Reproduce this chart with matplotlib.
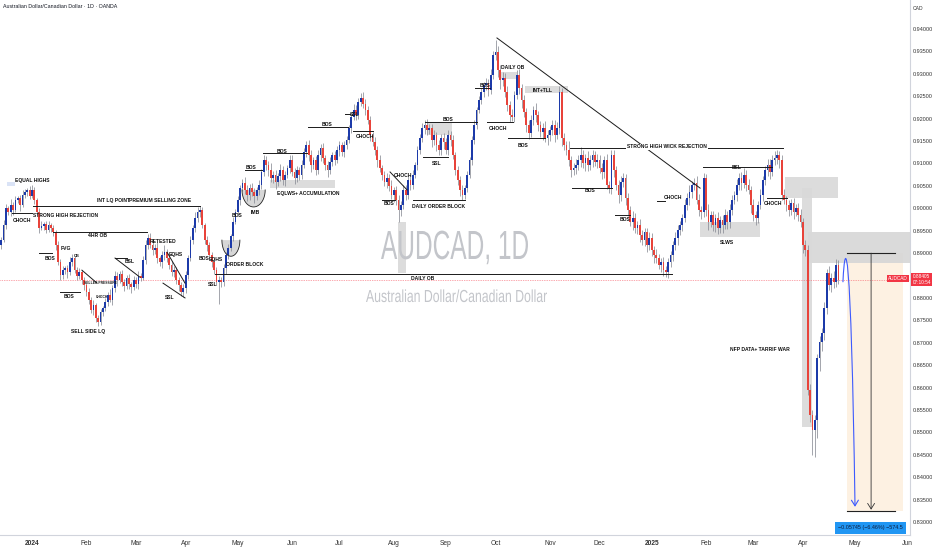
import numpy as np
import pandas as pd
import matplotlib
matplotlib.use('Agg')
import matplotlib.pyplot as plt
from matplotlib import font_manager as fm
from matplotlib.patches import Rectangle, Polygon, PathPatch, FancyArrowPatch
from matplotlib.path import Path
from matplotlib.textpath import TextPath
from matplotlib.font_manager import FontProperties
from matplotlib.transforms import Affine2D, blended_transform_factory

# daily AUDCAD candles, prices in 1e-4 units, first bar 2023-12-13
first_day = '2023-12-13'
first_open = 8918
closes = [
    8930, 8963, 9001, 8992, 9008, 8997, 9019, 9023, 9008, 9030, 9037, 9041, 9028,
    9041, 9019, 8992, 8956, 8961, 8965, 8952, 8963, 8956, 8947,
    8918, 8880, 8851, 8863, 8867, 8858, 8880, 8889, 8863, 8849,
    8858, 8840, 8829, 8813, 8796, 8773, 8785, 8755, 8747, 8769,
    8778, 8791, 8807, 8796, 8822, 8849, 8840, 8854, 8836, 8827,
    8845, 8831, 8825, 8840, 8831, 8849, 8845, 8885, 8918, 8934,
    8918, 8907, 8912, 8889, 8880, 8896, 8903, 8889, 8874, 8858,
    8863, 8840, 8829, 8813, 8822, 8851, 8889, 8930, 8956, 8979,
    8992, 8997, 8963, 8930, 8918, 8896, 8880, 8863, 8836, 8840,
    8836, 8867, 8896, 8912, 8938, 8970, 8992, 9019, 9046, 9057,
    9041, 9030, 9046, 9037, 9028, 9041, 9052, 9081, 9108, 9097,
    9086, 9068, 9075, 9059, 9072, 9086, 9063, 9075, 9090, 9108,
    9081, 9068, 9086, 9075, 9097, 9126, 9141, 9119, 9097, 9108,
    9086, 9119, 9135, 9112, 9097, 9086, 9104, 9119, 9108, 9130,
    9141, 9126, 9141, 9153, 9179, 9204, 9220, 9208, 9237, 9246,
    9233, 9220, 9197, 9164, 9148, 9130, 9108, 9090, 9075, 9059,
    9068, 9050, 9030, 9041, 9019, 8997, 9008, 9041, 9030, 9063,
    9052, 9075, 9097, 9130, 9157, 9179, 9186, 9175, 9179, 9153,
    9164, 9141, 9130, 9157, 9148, 9130, 9164, 9153, 9119, 9086,
    9063, 9041, 9030, 9046, 9075, 9108, 9153, 9186, 9220, 9242,
    9260, 9275, 9280, 9264, 9298, 9342, 9349, 9309, 9286, 9291,
    9260, 9231, 9208, 9204, 9253, 9298, 9269, 9242, 9215, 9186,
    9168, 9197, 9220, 9208, 9186, 9170, 9179, 9157, 9164, 9175,
    9186, 9164, 9179, 9260, 9157, 9141, 9130, 9108, 9086, 9090,
    9097, 9108, 9119, 9101, 9112, 9097, 9108, 9119, 9104, 9108,
    9090, 9081, 9108, 9052, 9046, 9119, 9086, 9052, 9030, 9059,
    9068, 9023, 8997, 8970, 8979, 8956, 8963, 8941, 8930, 8947,
    8918, 8934, 8907, 8896, 8889, 8874, 8880, 8863, 8858, 8880,
    8896, 8918, 8934, 8952, 8963, 8979, 9008, 9023, 9037, 9052,
    9057, 9019, 8997, 8992, 9068, 8997, 8970, 8985, 8963, 8979,
    8956, 8974, 8963, 8985, 8970, 8997, 9019, 9030, 9052, 9068,
    9057, 9075, 9052, 9041, 9008, 8985, 8979, 9008, 9030, 9063,
    9086, 9097, 9081, 9108, 9112, 9119, 9108, 9030, 9019, 9008,
    8997, 9012, 8992, 9001, 8985, 8970, 8918, 8907, 8595, 8539,
    8506, 8528, 8666, 8702, 8722, 8778, 8856, 8829, 8845, 8836, 8874, 8840,
]
upper_wick = [
    6, 10, 8, 5, 12, 6, 9, 4, 7, 10, 6, 5, 8,
    12, 6, 4, 8, 10, 5, 7, 9, 4, 6,
    5, 8, 6, 9, 4, 7, 12, 10, 5, 6,
    8, 4, 6, 5, 9, 7, 10, 4, 8, 6,
    5, 9, 7, 12, 6, 10, 8, 5, 9, 7,
    6, 8, 5, 10, 7, 12, 6, 9, 11, 8,
    10, 6, 8, 12, 5, 9, 14, 7, 6, 8,
    9, 5, 7, 6, 10, 8, 6, 9, 7, 12,
    10, 8, 6, 5, 9, 7, 6, 8, 5, 10,
    7, 9, 6, 8, 5, 10, 7, 9, 6, 8,
    12, 10, 9, 11, 8, 7, 10, 6, 12, 8,
    9, 15, 8, 10, 7, 12, 8, 9, 6, 10,
    12, 8, 9, 7, 10, 8, 9, 12, 10, 7,
    8, 10, 9, 11, 7, 8, 10, 6, 9, 8,
    10, 7, 9, 8, 6, 9, 12, 10, 8, 11,
    14, 10, 8, 9, 7, 10, 8, 12, 6, 9,
    10, 8, 12, 7, 9, 10, 8, 12, 10, 9,
    8, 10, 7, 9, 8, 12, 10, 14, 9, 8,
    10, 7, 12, 8, 10, 9, 11, 8, 10, 7,
    9, 8, 10, 7, 9, 6, 8, 10, 7, 9,
    8, 6, 10, 9, 12, 8, 27, 14, 10, 12,
    10, 12, 9, 14, 8, 10, 12, 9, 11, 8,
    10, 12, 9, 14, 10, 8, 12, 16, 10, 9,
    12, 10, 14, 12, 8, 10, 9, 20, 8, 12,
    14, 10, 18, 12, 9, 16, 10, 12, 8, 14,
    10, 12, 9, 14, 8, 10, 12, 9, 11, 14,
    10, 8, 12, 9, 14, 10, 8, 12, 10, 9,
    8, 12, 10, 9, 14, 8, 10, 12, 8, 10,
    9, 8, 12, 10, 9, 8, 12, 10, 14, 9,
    10, 14, 12, 9, 10, 8, 12, 9, 10, 8,
    12, 9, 10, 14, 8, 12, 10, 9, 14, 10,
    12, 16, 10, 14, 9, 12, 10, 8, 12, 10,
    9, 14, 12, 10, 16, 12, 8, 10, 12, 9,
    10, 8, 12, 9, 10, 14, 8, 12, 10, 14,
    12, 10, 8, 14, 10, 12, 9, 16, 10, 14, 12, 10,
]
lower_wick = [
    8, 5, 10, 6, 9, 12, 5, 8, 14, 6, 8, 10, 7,
    6, 9, 8, 12, 5, 10, 7, 6, 9, 8,
    10, 6, 12, 8, 10, 14, 6, 9, 7, 10,
    6, 9, 12, 8, 10, 6, 12, 8, 10, 7,
    9, 7, 10, 6, 12, 8, 14, 7, 10, 12,
    8, 10, 14, 7, 9, 12, 8, 6, 10, 9,
    7, 12, 9, 10, 8, 14, 12, 9, 10, 8,
    12, 9, 14, 8, 10, 12, 9, 7, 10, 8,
    9, 12, 8, 10, 14, 9, 12, 10, 8, 50,
    12, 10, 14, 9, 8, 10, 6, 9, 12, 8,
    10, 14, 12, 9, 16, 10, 12, 8, 9, 12,
    14, 10, 12, 16, 9, 12, 10, 14, 8, 12,
    10, 14, 9, 12, 10, 8, 12, 14, 16, 10,
    12, 9, 14, 10, 12, 16, 9, 10, 12, 8,
    14, 10, 12, 9, 8, 10, 6, 12, 9, 8,
    10, 12, 9, 14, 10, 12, 16, 9, 12, 10,
    14, 12, 10, 16, 12, 28, 14, 10, 12, 9,
    12, 10, 8, 12, 9, 10, 14, 12, 10, 16,
    12, 14, 10, 12, 16, 9, 12, 14, 10, 12,
    10, 14, 12, 9, 10, 8, 12, 9, 10, 8,
    9, 12, 10, 14, 9, 10, 12, 16, 20, 14,
    12, 14, 16, 10, 12, 9, 14, 18, 12, 16,
    14, 10, 12, 16, 14, 12, 18, 10, 16, 14,
    12, 16, 10, 14, 18, 12, 10, 14, 16, 12,
    14, 12, 16, 10, 18, 14, 12, 16, 10, 14,
    12, 16, 14, 10, 12, 14, 16, 12, 18, 14,
    12, 16, 14, 10, 18, 12, 14, 16, 12, 14,
    16, 12, 14, 18, 12, 10, 16, 14, 12, 14,
    12, 14, 10, 16, 12, 14, 10, 12, 16, 14,
    12, 10, 14, 16, 12, 14, 18, 12, 14, 16,
    14, 12, 18, 10, 16, 14, 12, 10, 14, 12,
    16, 12, 14, 10, 18, 14, 16, 12, 10, 14,
    12, 14, 16, 10, 12, 14, 18, 12, 10, 14,
    14, 12, 16, 10, 14, 12, 18, 14, 12, 16,
    56, 60, 40, 30, 20, 16, 14, 12, 16, 14, 12, 10,
]

price_ticks = [0.830, 0.835, 0.840, 0.845, 0.850, 0.855, 0.860, 0.865, 0.870, 0.875,
               0.880, 0.885, 0.890, 0.895, 0.900, 0.905, 0.910, 0.915, 0.920, 0.925,
               0.930, 0.935, 0.940]
last_price = 0.88405
entry_price = 0.89000
target_price = 0.83255
measure_text = '\u22120.05745 (\u22126.46%) \u2212574.5'

# ---- derived candle arrays ----
c = np.array(closes) / 1e4
o = np.r_[first_open, closes[:-1]] / 1e4
hi = np.maximum(o, c) + np.array(upper_wick) / 1e4
lo = np.minimum(o, c) - np.array(lower_wick) / 1e4

all_days = pd.bdate_range(first_day, '2025-06-30')
pos0 = all_days.get_loc(pd.Timestamp('2024-01-01'))
xs = np.arange(len(closes)) - pos0

names = {f.name for f in fm.fontManager.ttflist}
ann_font = 'Liberation Sans Narrow' if 'Liberation Sans Narrow' in names else 'Liberation Sans'
ANN = 3.6

fig = plt.figure(figsize=(9.32, 5.5), dpi=100)
fig.patch.set_facecolor('white')
ax = fig.add_axes([0, 15 / 550, 910 / 932, 535 / 550])
ax.set_xlim(-13.53, 371.25)
ax.set_ylim(0.82711, 0.94647)

GREY_BOX = '#d9d9d9'

def box(k0, k1, p0, p1, color=GREY_BOX, alpha=0.9, z=1):
    ax.add_patch(Rectangle((k0, p0), k1 - k0, p1 - p0, facecolor=color,
                           edgecolor='none', alpha=alpha, zorder=z))

# grey zones
box(100.6, 128.1, 0.9045, 0.9063)
box(154.8, 158.1, 0.8856, 0.8969)
box(167.0, 177.6, 0.9163, 0.9190)
box(197.9, 205.1, 0.9289, 0.9304)
box(208.5, 226.6, 0.9257, 0.9273)
box(282.5, 307.8, 0.8936, 0.8970)
box(318.4, 340.8, 0.9023, 0.9070)
box(325.6, 329.8, 0.8512, 0.9045)
box(-10.6, -7.2, 0.9050, 0.9059, color='#d6e0f5')

# short position tool
box(344.6, 368.3, target_price, entry_price, color='#fdf1e2', alpha=1, z=0.5)
box(328.1, 371.3, 0.8878, 0.8947, color='#d6d6d6', alpha=0.9, z=0.8)

# last price dotted line
ax.axhline(last_price, color='#f7525f', lw=0.5, ls=(0, (1, 1.5)), zorder=1.5)

# candles
up = c >= o
ax.vlines(xs, lo, hi, color='#8a8d96', lw=0.55, zorder=2)
body_h = np.maximum(np.abs(c - o), 0.00008)
ax.bar(xs, body_h, bottom=np.minimum(o, c), width=0.74,
       color=np.where(up, '#1c3aa9', '#e8433a'), linewidth=0, zorder=3)

# structure lines (bar index, price)
levels = [
    (-8.5, 0.0, 0.8990), (0.4, 71.0, 0.9005), (8.9, 48.6, 0.8947), (3.0, 8.5, 0.8900),
    (11.8, 20.3, 0.8813), (35.1, 40.2, 0.8889), (77.4, 270.6, 0.8853), (90.1, 97.3, 0.9085),
    (97.7, 116.3, 0.9123), (116.7, 133.6, 0.9181), (132.3, 134.5, 0.9210), (135.7, 144.2, 0.9172),
    (148.0, 153.5, 0.9018), (166.2, 188.2, 0.9193), (165.3, 175.9, 0.9114), (161.1, 183.1, 0.9018),
    (192.4, 203.4, 0.9193), (201.3, 216.9, 0.9157), (227.5, 317.5, 0.9135), (228.3, 245.2, 0.9045),
    (246.5, 252.9, 0.8985), (264.3, 267.7, 0.9016), (283.7, 312.9, 0.9092), (310.8, 319.2, 0.9023),
    (187.3, 193.7, 0.9268),
]
for k0, k1, p in levels:
    ax.plot([k0, k1], [p, p], color='#1a1a1a', lw=0.7, zorder=4)

diagonals = [
    ((196.6, 0.9380), (282.5, 0.9045)),
    ((35.1, 0.8889), (45.7, 0.8846)),
    ((55.4, 0.8833), (64.7, 0.8800)),
    ((57.1, 0.8902), (64.7, 0.8833)),
    ((151.4, 0.9081), (158.6, 0.9041)),
    ((21.1, 0.8862), (27.5, 0.8833)),
]
for (k0, p0), (k1, p1) in diagonals:
    ax.plot([k0, k1], [p0, p1], color='#1a1a1a', lw=0.7, zorder=4)

def bowl(cx, hw, top, depth):
    t = np.linspace(0, np.pi, 40)
    px = cx + hw * np.cos(t)
    py = top - depth * np.sin(t)
    ax.add_patch(Polygon(np.column_stack([px, py]), closed=True, facecolor='#bdbdbd',
                         alpha=0.6, edgecolor='none', zorder=1))
    ax.plot(px, py, color='#222222', lw=0.6, zorder=4)

bowl(84.1, 3.8, 0.8929, 0.0036)
bowl(93.7, 4.9, 0.9041, 0.0038)

labels = [
    (0.0, 0.9061, 'EQUAL HIGHS', ANN), (-4.2, 0.8972, 'CHOCH', ANN),
    (14.0, 0.8983, 'STRONG HIGH REJECTION', ANN), (34.4, 0.9018, 'INT LQ POINT', ANN),
    (54.0, 0.9018, 'PREMIUM SELLING ZONE', ANN), (27.9, 0.8940, '4HR OB', ANN),
    (7.6, 0.8889, 'BOS', ANN), (14.4, 0.8911, 'FVG', ANN), (19.0, 0.8894, 'OB', 2.8),
    (15.6, 0.8804, 'BOS', ANN), (28.8, 0.8833, 'SELLER PRESSURE', 2.4),
    (29.6, 0.8802, 'CHOCH', 2.4), (23.7, 0.8726, 'SELL SIDE LQ', ANN),
    (41.4, 0.8882, 'BSL', ANN), (55.4, 0.8927, 'RETESTED', ANN), (60.9, 0.8898, 'EQHS', ANN),
    (58.4, 0.8800, 'SSL', ANN), (72.7, 0.8887, 'BOS', ANN), (77.8, 0.8885, 'EQHS', ANN),
    (76.5, 0.8829, 'SSL', ANN), (90.1, 0.8874, 'ORDER BLOCK', ANN), (86.7, 0.8983, 'BOS', ANN),
    (94.3, 0.8990, 'IMB', ANN), (92.6, 0.9092, 'BOS', ANN), (105.7, 0.9126, 'BOS', ANN),
    (116.7, 0.9032, 'EQLWS+ ACCUMULATION', ANN), (124.7, 0.9186, 'BOS', ANN),
    (136.6, 0.9210, 'SSL', ANN), (140.8, 0.9161, 'CHOCH', ANN), (151.0, 0.9010, 'BOS', ANN),
    (156.9, 0.9074, 'CHOCH', ANN), (175.9, 0.9199, 'BOS', ANN), (171.2, 0.9099, 'SSL', ANN),
    (171.7, 0.9005, 'DAILY ORDER BLOCK', ANN), (165.3, 0.8844, 'DAILY OB', ANN),
    (191.5, 0.9275, 'BOS', ANN), (203.4, 0.9313, 'DAILY OB', ANN), (197.0, 0.9179, 'CHOCH', ANN),
    (216.1, 0.9262, 'INT+TLL', ANN), (207.6, 0.9141, 'BOS', ANN), (236.0, 0.9039, 'BOS', ANN),
    (250.7, 0.8974, 'BOS', ANN), (271.0, 0.9023, 'CHOCH', ANN), (298.1, 0.9092, 'BSL', ANN),
    (293.9, 0.8923, 'SLWS', ANN), (313.3, 0.9010, 'CHOCH', ANN),
    (307.8, 0.8684, 'NFP DATA+ TARRIF WAR', ANN),
]
for k, p, s, fs in labels:
    ax.text(k, p, s, fontsize=fs, fontweight='bold', family=ann_font, color='#111111',
            ha='center', va='center', zorder=6)
ax.text(268.5, 0.9137, 'STRONG HIGH WICK REJECTION', fontsize=ANN, fontweight='bold',
        family=ann_font, color='#111111', ha='center', va='center', zorder=6,
        bbox=dict(facecolor='white', edgecolor='none', pad=0.6))

# position tool lines and arrows
ax.plot([344.6, 364.9], [entry_price, entry_price], color='#222222', lw=0.8, zorder=5)
ax.plot([344.6, 364.9], [target_price, target_price], color='#222222', lw=0.8, zorder=5)
ax.annotate('', xy=(354.8, target_price + 0.0002), xytext=(354.8, entry_price),
            arrowprops=dict(arrowstyle='->,head_length=0.4,head_width=0.25', lw=0.6,
                            color='#333333', shrinkA=0, shrinkB=0), zorder=5)
curve = Path([(342.9, 0.8836), (343.8, 0.8940), (346.3, 0.8940), (348.0, 0.8334)],
             [Path.MOVETO, Path.CURVE4, Path.CURVE4, Path.CURVE4])
ax.add_patch(FancyArrowPatch(path=curve, arrowstyle='->,head_length=4,head_width=2.5',
                             color='#3d5afe', lw=0.8, zorder=6))
ax.text(354.6, 0.8287, measure_text, fontsize=3.9, family=ann_font, color='#0f1d3d',
        ha='center', va='center', zorder=7,
        bbox=dict(boxstyle='square,pad=0.6', facecolor='#2196f3', edgecolor='none'))

# axes and ticks
for side in ['top', 'left']:
    ax.spines[side].set_visible(False)
for side in ['right', 'bottom']:
    ax.spines[side].set_color('#d1d4dc')
    ax.spines[side].set_linewidth(0.8)
ax.yaxis.tick_right()
ax.set_yticks(price_ticks)
ax.set_yticklabels([f'{t:.5f}' for t in price_ticks])
ax.tick_params(axis='y', length=0, pad=2, labelsize=4.0, labelcolor='#333333')
for t in ax.get_yticklabels():
    t.set_family(ann_font)

month_starts = pd.date_range('2024-01-01', '2025-06-01', freq='MS')
tick_pos, tick_lab = [], []
for m in month_starts:
    i = all_days.searchsorted(m)
    tick_pos.append(i - pos0)
    tick_lab.append(str(m.year) if m.month == 1 else m.strftime('%b'))
ax.set_xticks(tick_pos)
ax.set_xticklabels(tick_lab)
ax.tick_params(axis='x', length=0, pad=3.5, labelsize=4.8, labelcolor='#333333')
for t in ax.get_xticklabels():
    t.set_family(ann_font)
    if t.get_text().isdigit():
        t.set_fontweight('bold')

trans = blended_transform_factory(ax.transAxes, ax.transData)
ax.text(1.003, last_price, '0.88405\n07:10:54', transform=trans, fontsize=3.4,
        family=ann_font, color='white', ha='left', va='center', linespacing=1.15,
        zorder=8, clip_on=False,
        bbox=dict(boxstyle='square,pad=0.3', facecolor='#f23645', edgecolor='none'))
ax.text(0.9975, last_price + 0.0003, 'AUDCAD', transform=trans, fontsize=3.4,
        family=ann_font, color='white', ha='right', va='center', zorder=8, clip_on=False,
        bbox=dict(boxstyle='square,pad=0.3', facecolor='#f23645', edgecolor='none'))
fig.text(913 / 932, 1 - 8 / 550, 'CAD', fontsize=3.6, family=ann_font, color='#333333',
         ha='left', va='center')
fig.text(3 / 932, 1 - 7 / 550, 'Australian Dollar/Canadian Dollar \u00b7 1D \u00b7 OANDA',
         fontsize=3.8, family=ann_font, color='#131722', ha='left', va='center')

# watermark, squeezed to the width seen in the chart
def watermark(s, x0, x1, cap_top, baseline, color):
    fp = FontProperties(family='Liberation Sans')
    tp = TextPath((0, 0), s, size=1, prop=fp)
    cap = TextPath((0, 0), 'A', size=1, prop=fp).get_extents()
    ext = tp.get_extents()
    sx = (x1 - x0) / ext.width
    sy = (baseline - cap_top) / cap.height
    tr = Affine2D().translate(-ext.x0, 0).scale(sx, sy).translate(x0, 550 - baseline)
    fig.add_artist(PathPatch(tp, transform=tr, facecolor=color, edgecolor='none', zorder=0.2))

watermark('AUDCAD, 1D', 381, 528, 231, 259, '#c3c5ca')
watermark('Australian Dollar/Canadian Dollar', 366, 547, 290, 302, '#c3c5ca')

fig.savefig('out.png', dpi=100)
